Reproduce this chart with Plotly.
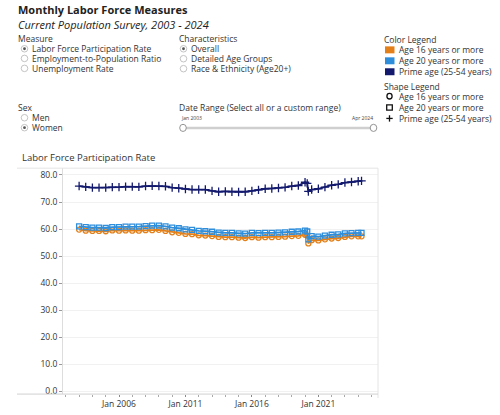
import plotly.graph_objects as go

W, H = 500, 415

dates = [
    "2003-01-01", "2003-07-01", "2004-01-01", "2004-07-01", "2005-01-01", "2005-07-01",
    "2006-01-01", "2006-07-01", "2007-01-01", "2007-07-01", "2008-01-01", "2008-07-01",
    "2009-01-01", "2009-07-01", "2010-01-01", "2010-07-01", "2011-01-01", "2011-07-01",
    "2012-01-01", "2012-07-01", "2013-01-01", "2013-07-01", "2014-01-01", "2014-07-01",
    "2015-01-01", "2015-07-01", "2016-01-01", "2016-07-01", "2017-01-01", "2017-07-01",
    "2018-01-01", "2018-07-01", "2019-01-01", "2019-07-01",
    "2020-01-01", "2020-03-01", "2020-04-01", "2020-07-01",
    "2021-01-01", "2021-07-01", "2022-01-01", "2022-07-01", "2023-01-01", "2023-07-01",
    "2024-01-01", "2024-04-01",
]

age16 = [
    59.8, 59.4, 59.3, 59.3, 59.2, 59.5, 59.4, 59.5, 59.4, 59.4, 59.6, 59.6,
    59.7, 59.3, 58.8, 58.6, 58.2, 58.1, 57.7, 57.6, 57.4, 57.1, 57.0, 57.0,
    56.8, 56.7, 57.0, 56.8, 57.0, 57.0, 57.1, 57.2, 57.4, 57.5,
    57.9, 57.6, 54.7, 55.9,
    55.8, 56.2, 56.5, 56.7, 57.1, 57.3, 57.3, 57.3,
]

age20 = [
    61.0, 60.7, 60.5, 60.5, 60.4, 60.7, 60.7, 60.9, 60.9, 60.9, 61.1, 61.3,
    61.3, 61.0, 60.5, 60.3, 59.9, 59.7, 59.3, 59.2, 59.0, 58.7, 58.6, 58.6,
    58.4, 58.3, 58.6, 58.5, 58.6, 58.6, 58.7, 58.8, 59.0, 59.1,
    59.4, 59.1, 56.2, 57.4,
    57.2, 57.6, 57.9, 58.0, 58.4, 58.5, 58.6, 58.6,
]

prime = [
    75.9, 75.6, 75.3, 75.3, 75.3, 75.5, 75.5, 75.7, 75.7, 75.6, 75.9, 76.0,
    75.9, 75.8, 75.3, 75.1, 74.8, 74.6, 74.6, 74.6, 74.1, 73.8, 73.9, 73.8,
    73.7, 73.8, 74.1, 74.5, 74.9, 75.0, 75.2, 75.4, 75.9, 76.1,
    77.3, 76.9, 73.9, 74.6,
    74.9, 75.5, 76.2, 76.5, 77.2, 77.4, 77.7, 77.8,
]

series_names = ["Age 16 years or more", "Age 20 years or more", "Prime age (25-54 years)"]
colors = ["#E3801A", "#2F8EDB", "#131A6E"]
symbols = ["circle-open", "square-open", "cross-thin-open"]
marker_sizes = [5, 5, 6]

measure_opts = ["Labor Force Participation Rate", "Employment-to-Population Ratio", "Unemployment Rate"]
char_opts = ["Overall", "Detailed Age Groups", "Race & Ethnicity (Age20+)"]
sex_opts = ["Men", "Women"]

y_ticks = [0, 10, 20, 30, 40, 50, 60, 70, 80]
x_ticks = ["2006-01-01", "2011-01-01", "2016-01-01", "2021-01-01"]
x_ticklabels = ["Jan 2006", "Jan 2011", "Jan 2016", "Jan 2021"]

FONT = "Open Sans"
TXT = "#333333"


def px(x):
    return x / W


def py(y):
    return 1 - y / H


fig = go.Figure()
for vals, name, col, sym, ms in zip([age16, age20, prime], series_names, colors, symbols, marker_sizes):
    fig.add_trace(go.Scatter(
        x=dates, y=vals, name=name, mode="lines+markers",
        line=dict(color=col, width=1.8),
        marker=dict(symbol=sym, size=ms, color=col, line=dict(color=col, width=1.3)),
        showlegend=False,
    ))

shapes = []
annotations = []


def text(x, y, s, size=9, color=TXT, xanchor="left", bold=False, italic=False, family=FONT):
    if bold:
        s = "<b>" + s + "</b>"
    if italic:
        s = "<i>" + s + "</i>"
    annotations.append(dict(
        x=px(x), y=py(y), xref="paper", yref="paper", text=s, showarrow=False,
        xanchor=xanchor, yanchor="middle", font=dict(size=size, color=color, family=family),
    ))


def radio(x, y, selected):
    r = 3.3
    shapes.append(dict(type="circle", xref="paper", yref="paper",
                       x0=px(x - r), x1=px(x + r), y0=py(y + r), y1=py(y - r),
                       line=dict(color="#b5b5b5", width=0.8), fillcolor="white"))
    if selected:
        r2 = 1.4
        shapes.append(dict(type="circle", xref="paper", yref="paper",
                           x0=px(x - r2), x1=px(x + r2), y0=py(y + r2), y1=py(y - r2),
                           line=dict(width=0), fillcolor="#555555"))


# Header
text(16, 10, "Monthly Labor Force Measures", size=11, color="#222222", bold=True)
text(16, 24.5, "Current Population Survey, 2003 - 2024", size=11, color="#222222", italic=True)

# Measure
text(16, 38.5, "Measure", size=8.5)
for i, (s, yy) in enumerate(zip(measure_opts, [49, 58.7, 68.7])):
    radio(24.5, yy, i == 0)
    text(29.5, yy, s, size=8.5)

# Characteristics
text(177, 38.5, "Characteristics", size=8.5)
for i, (s, yy) in enumerate(zip(char_opts, [49, 59, 69])):
    radio(183.5, yy, i == 0)
    text(188.5, yy, s, size=8.5)

# Sex
text(16, 108.3, "Sex", size=8.5)
for i, (s, yy) in enumerate(zip(sex_opts, [118.3, 128.3])):
    radio(24.5, yy, i == 1)
    text(29.5, yy, s, size=8.5)

# Date range
text(177, 108.3, "Date Range (Select all or a custom range)", size=8.5)
text(179, 119, "Jan 2003", size=5, color="#444444")
text(375, 119, "Apr 2024", size=5, color="#444444", xanchor="right")
shapes.append(dict(type="line", xref="paper", yref="paper", x0=px(183), x1=px(374),
                   y0=py(128.5), y1=py(128.5), line=dict(color="#cfcfcf", width=2.5)))
for hx in [183, 373.5]:
    shapes.append(dict(type="circle", xref="paper", yref="paper",
                       x0=px(hx - 3.3), x1=px(hx + 3.3), y0=py(128.5 + 3.6), y1=py(128.5 - 3.6),
                       line=dict(color="#888888", width=0.9), fillcolor="white"))

# Color legend
text(382, 40, "Color Legend", size=8.5)
for col, name, yy in zip(colors, series_names, [50, 61, 72]):
    shapes.append(dict(type="rect", xref="paper", yref="paper",
                       x0=px(385), x1=px(394.5), y0=py(yy + 3.6), y1=py(yy - 3.4),
                       line=dict(width=0), fillcolor=col))
    text(396.5, yy, name, size=8.5)

# Shape legend
text(382, 86.7, "Shape Legend", size=8.5)
leg_y = [96.7, 108, 119]
cx = 389.5
shapes.append(dict(type="circle", xref="paper", yref="paper",
                   x0=px(cx - 2.6), x1=px(cx + 2.6), y0=py(leg_y[0] + 2.8), y1=py(leg_y[0] - 2.8),
                   line=dict(color="#111111", width=1.3)))
shapes.append(dict(type="rect", xref="paper", yref="paper",
                   x0=px(cx - 2.8), x1=px(cx + 2.8), y0=py(leg_y[1] + 2.6), y1=py(leg_y[1] - 2.6),
                   line=dict(color="#111111", width=1.3)))
shapes.append(dict(type="line", xref="paper", yref="paper",
                   x0=px(cx - 3.2), x1=px(cx + 3.2), y0=py(leg_y[2]), y1=py(leg_y[2]),
                   line=dict(color="#111111", width=1.3)))
shapes.append(dict(type="line", xref="paper", yref="paper",
                   x0=px(cx), x1=px(cx), y0=py(leg_y[2] - 3.2), y1=py(leg_y[2] + 3.2),
                   line=dict(color="#111111", width=1.3)))
for name, yy in zip(series_names, leg_y):
    text(396.5, yy, name, size=8.5)

# Chart heading
text(19.5, 158.3, "Labor Force Participation Rate", size=9.5, color="#333333")

# Chart frame lines
shapes.append(dict(type="line", xref="paper", yref="paper", x0=px(17), x1=px(378),
                   y0=py(169), y1=py(169), line=dict(color="#e4e4e4", width=1)))
shapes.append(dict(type="line", xref="paper", yref="paper", x0=px(378), x1=px(378),
                   y0=py(169), y1=py(400), line=dict(color="#e4e4e4", width=1)))
shapes.append(dict(type="line", xref="paper", yref="paper", x0=px(17), x1=px(378),
                   y0=py(396), y1=py(396), line=dict(color="#d0d0d0", width=1)))

fig.update_layout(
    width=W, height=H,
    margin=dict(l=0, r=0, t=0, b=0),
    paper_bgcolor="white", plot_bgcolor="white",
    font=dict(family=FONT, size=8.5, color=TXT),
    shapes=shapes, annotations=annotations,
    showlegend=False,
    xaxis=dict(
        domain=[px(63), px(378)], range=["2001-10-15", "2025-06-28"], type="date",
        tickvals=x_ticks, ticktext=x_ticklabels, ticks="outside", ticklen=2,
        tickcolor="#888888", showgrid=False, showline=False, zeroline=False,
        tickfont=dict(size=8.5, color="#333333", family=FONT),
        minor=dict(dtick="M12", tick0="2002-01-01", ticks="outside", ticklen=2,
                   tickcolor="#aaaaaa", showgrid=False),
        fixedrange=True,
    ),
    yaxis=dict(
        domain=[1 - 396 / H, 1 - 169 / H], range=[-1.0, 82.5],
        tickvals=y_ticks, ticktext=[f"{v:.1f}" for v in y_ticks],
        ticks="outside", ticklen=3, tickcolor="#999999",
        showgrid=True, gridcolor="#f1f1f1", gridwidth=1,
        showline=True, linecolor="#dddddd", linewidth=1, zeroline=False,
        tickfont=dict(size=8.5, color="#333333", family=FONT),
        fixedrange=True,
    ),
)

fig.write_html("out.html")
